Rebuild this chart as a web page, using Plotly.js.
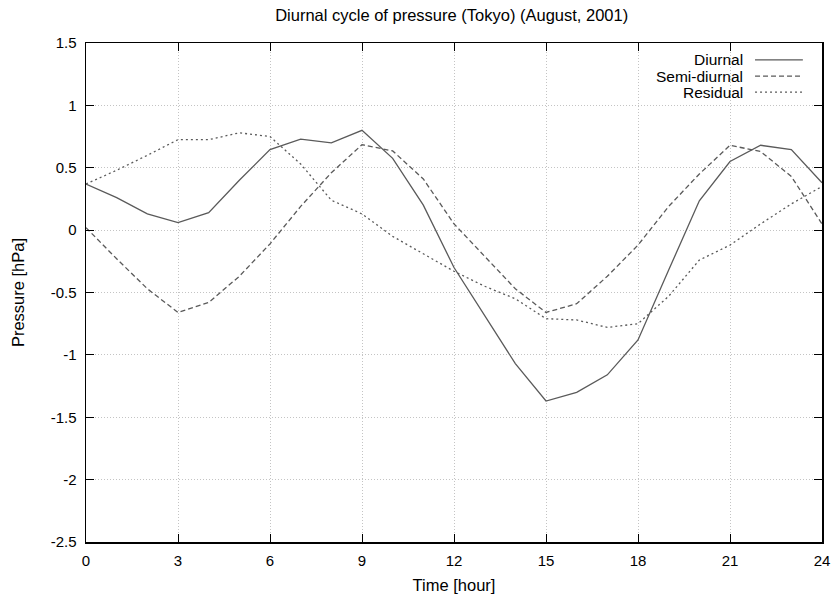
<!DOCTYPE html>
<html>
<head>
<meta charset="utf-8">
<script src="https://cdn.plot.ly/plotly-3.0.1.min.js"></script>
<style>html,body{margin:0;padding:0;background:#fff;}#chart{width:838px;height:596px;}</style>
</head>
<body>
<div id="chart"></div>
<script>
const hours = [0,1,2,3,4,5,6,7,8,9,10,11,12,13,14,15,16,17,18,19,20,21,22,23,24];
const diurnal = [0.37,0.26,0.13,0.06,0.14,0.40,0.645,0.73,0.70,0.80,0.575,0.20,-0.30,-0.69,-1.07,-1.37,-1.30,-1.16,-0.88,-0.32,0.235,0.55,0.68,0.645,0.38];
const semiDiurnal = [0.02,-0.23,-0.47,-0.66,-0.58,-0.37,-0.11,0.19,0.46,0.685,0.635,0.41,0.05,-0.21,-0.47,-0.66,-0.59,-0.37,-0.12,0.19,0.45,0.68,0.63,0.43,0.05];
const residual = [0.37,0.48,0.60,0.725,0.725,0.78,0.75,0.53,0.24,0.13,-0.05,-0.19,-0.33,-0.45,-0.55,-0.71,-0.72,-0.78,-0.75,-0.53,-0.24,-0.12,0.05,0.21,0.35];
const seriesNames = ['Diurnal','Semi-diurnal','Residual'];
const xTicks = [0,3,6,9,12,15,18,21,24];
const yTicks = [1.5,1,0.5,0,-0.5,-1,-1.5,-2,-2.5];
const yTickLabels = ['1.5','1','0.5','0','-0.5','-1','-1.5','-2','-2.5'];

const lineColor = '#5a5a5a';
const dashes = ['solid','5px,3px','2px,3px'];
const seriesData = [diurnal, semiDiurnal, residual];
const font = 'Liberation Sans, Arial, Helvetica, sans-serif';

const traces = seriesData.map((vals, i) => ({
  x: hours, y: vals, type: 'scatter', mode: 'lines', name: seriesNames[i],
  line: {color: lineColor, width: 1.3, dash: dashes[i]}, showlegend: false,
  hoverinfo: 'x+y'
}));

// legend drawn gnuplot-style: right-aligned text, sample line on the right
const legY = [0.966, 0.9335, 0.9015];
const annotations = seriesNames.map((n, i) => ({
  xref: 'paper', yref: 'paper', x: 0.896, y: legY[i], xanchor: 'right', yanchor: 'middle',
  text: n, showarrow: false, font: {family: font, size: 15.5, color: '#000'}
}));
const shapes = seriesNames.map((n, i) => ({
  type: 'line', xref: 'paper', yref: 'paper', x0: 0.909, x1: 0.974, y0: legY[i], y1: legY[i],
  line: {color: lineColor, width: 1.3, dash: dashes[i]}
}));

const axisCommon = {
  showline: true, linecolor: '#000', linewidth: 1.5, mirror: 'allticks',
  ticks: 'inside', ticklen: 8, tickcolor: '#000', tickwidth: 1,
  showgrid: true, gridcolor: '#c4c4c4', gridwidth: 1, griddash: '1px,2px',
  zeroline: false, tickfont: {family: font, size: 15, color: '#000'}
};

const layout = {
  width: 838, height: 596,
  margin: {l: 86, r: 16, t: 43, b: 54},
  paper_bgcolor: '#fff', plot_bgcolor: '#fff',
  font: {family: font, color: '#000'},
  title: {text: 'Diurnal cycle of pressure (Tokyo) (August, 2001)', font: {family: font, size: 16.5, color: '#000'},
          x: 0.539, xanchor: 'center', y: 0.975, yanchor: 'middle'},
  xaxis: Object.assign({}, axisCommon, {
    range: [0, 24], tickvals: xTicks, ticktext: xTicks.map(String), ticklabelstandoff: 4,
    title: {text: 'Time [hour]', font: {family: font, size: 16.5, color: '#000'}, standoff: 12}
  }),
  yaxis: Object.assign({}, axisCommon, {
    range: [-2.5, 1.5], tickvals: yTicks, ticktext: yTickLabels, ticklabelstandoff: 5,
    title: {text: 'Pressure [hPa]', font: {family: font, size: 16.5, color: '#000'}, standoff: 22}
  }),
  annotations: annotations,
  shapes: shapes
};

Plotly.newPlot('chart', traces, layout, {displayModeBar: false, staticPlot: true});
</script>
</body>
</html>
